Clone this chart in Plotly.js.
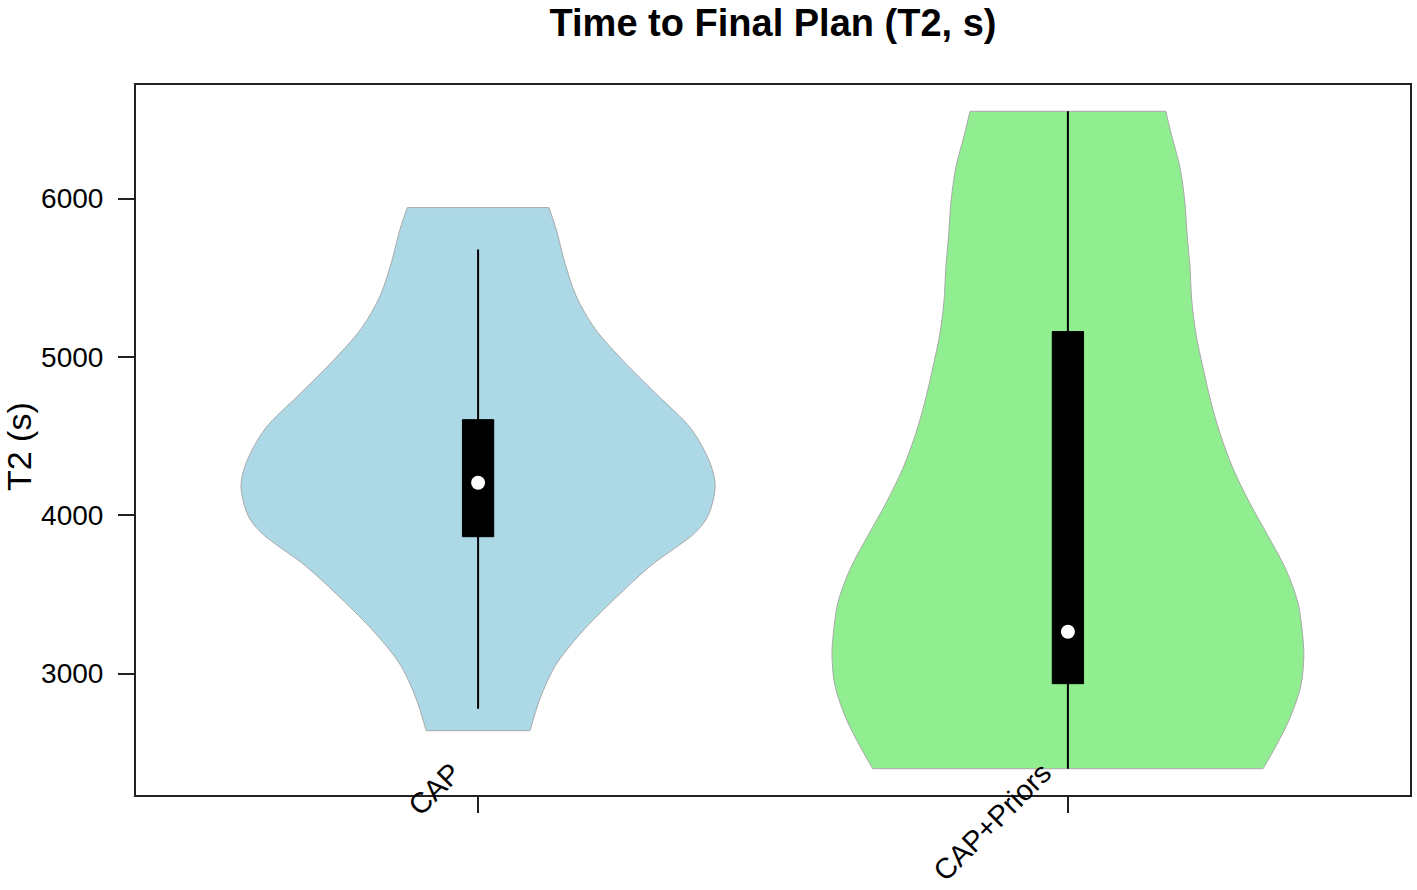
<!DOCTYPE html>
<html>
<head>
<meta charset="utf-8">
<script src="https://cdn.plot.ly/plotly-3.0.1.min.js"></script>
<style>html,body{margin:0;padding:0;background:#fff;}#chart{width:1417px;height:890px;}</style>
</head>
<body>
<div id="chart"></div>
<script>
// ---- data ----
const categories = ["CAP", "CAP+Priors"];
const catPos = [1, 2];

// violin outline: y values and half-widths (in category units)
const capY  = [2640, 2842, 3051, 3259, 3474, 3682, 3891, 3998, 4187, 4333, 4547, 4756, 4964, 5179, 5387, 5596, 5811, 5943];
const capHW = [0.088, 0.105, 0.131, 0.175, 0.232, 0.293, 0.368, 0.390, 0.402, 0.393, 0.361, 0.305, 0.249, 0.198, 0.166, 0.147, 0.132, 0.120];

const priY  = [2400, 2545, 2716, 2924, 3114, 3240, 3448, 3663, 3872, 4080, 4295, 4516, 4724, 4933, 5147, 5356, 5564, 5779, 5987, 6196, 6411, 6551];
const priHW = [0.331, 0.353, 0.376, 0.395, 0.400, 0.398, 0.390, 0.369, 0.339, 0.308, 0.280, 0.258, 0.242, 0.229, 0.217, 0.210, 0.207, 0.202, 0.198, 0.190, 0.175, 0.166];

// box statistics
const q1       = [3865, 2937];
const medians  = [4206, 3265];
const q3       = [4604, 5160];
const whiskLo  = [2779, 2400];
const whiskHi  = [5678, 6551];

const fillColors = ["#ADD8E6", "#90EE90"];
const yTicks = [3000, 4000, 5000, 6000];

// ---- build traces ----
const OUTLINE = "#a9a9a9";
const BOX_HALF = 0.0265;

function violinTraces(center, ys, hws, color) {
  const left = ys.map((v, i) => center - hws[i]);
  const right = ys.map((v, i) => center + hws[i]);
  const n = ys.length - 1;
  return [
    { type: "scatter", mode: "lines", x: left, y: ys,
      line: { color: OUTLINE, width: 1, shape: "spline", smoothing: 0.9 },
      hoverinfo: "skip", showlegend: false },
    { type: "scatter", mode: "lines", x: right, y: ys,
      fill: "tonextx", fillcolor: color,
      line: { color: OUTLINE, width: 1, shape: "spline", smoothing: 0.9 },
      hoverinfo: "skip", showlegend: false },
    { type: "scatter", mode: "lines",
      x: [left[0], right[0], null, left[n], right[n]],
      y: [ys[0], ys[0], null, ys[n], ys[n]],
      line: { color: OUTLINE, width: 1 }, connectgaps: false,
      hoverinfo: "skip", showlegend: false }
  ];
}

function boxTraces(i) {
  const c = catPos[i];
  return [
    { type: "scatter", mode: "lines", x: [c, c], y: [whiskLo[i], whiskHi[i]],
      line: { color: "#000000", width: 2 }, hoverinfo: "skip", showlegend: false },
    { type: "scatter", mode: "lines",
      x: [c - BOX_HALF, c + BOX_HALF, c + BOX_HALF, c - BOX_HALF, c - BOX_HALF],
      y: [q1[i], q1[i], q3[i], q3[i], q1[i]],
      fill: "toself", fillcolor: "#000000",
      line: { color: "#000000", width: 1 }, hoverinfo: "skip", showlegend: false }
  ];
}

let traces = [];
traces = traces.concat(violinTraces(catPos[0], capY, capHW, fillColors[0]));
traces = traces.concat(violinTraces(catPos[1], priY, priHW, fillColors[1]));
for (let i = 0; i < categories.length; i++) traces = traces.concat(boxTraces(i));

traces.push({
  type: "scatter", mode: "markers", x: catPos, y: medians,
  marker: { color: "#ffffff", size: 14, line: { width: 0 } },
  showlegend: false, hoverinfo: "skip"
});

const FONT = "Liberation Sans, Arial, Helvetica, sans-serif";

const annotations = categories.map((c, i) => ({
  text: c, x: catPos[i], xref: "x", y: 0, yref: "paper",
  xanchor: "right", yanchor: "top", xshift: -8, yshift: 41,
  textangle: -45, showarrow: false,
  font: { family: FONT, size: 29, color: "#000" }
}));
annotations.push({
  text: "T2 (s)", xref: "paper", yref: "paper", x: 0, y: 0.5,
  xshift: -117, yshift: -7, xanchor: "center", yanchor: "middle",
  textangle: -90, showarrow: false,
  font: { family: FONT, size: 34, color: "#000" }
});

const layout = {
  width: 1417, height: 890,
  margin: { l: 136, r: 7, t: 85, b: 95 },
  paper_bgcolor: "#ffffff", plot_bgcolor: "#ffffff",
  title: {
    text: "<b>Time to Final Plan (T2, s)</b>",
    font: { family: FONT, size: 38, color: "#000" },
    x: 0.5, xref: "paper", y: 0.975, yref: "container", yanchor: "middle"
  },
  xaxis: {
    range: [0.42, 2.58], tickvals: catPos, ticktext: ["", ""],
    ticks: "outside", ticklen: 16, tickwidth: 2, tickcolor: "#222",
    showgrid: false, zeroline: false,
    showline: true, linecolor: "#222", linewidth: 2, mirror: true
  },
  yaxis: {
    range: [2234, 6717], tickvals: yTicks, ticktext: yTicks.map(String),
    ticks: "outside", ticklen: 16, tickwidth: 2, tickcolor: "#222",
    ticklabelstandoff: 9,
    tickfont: { family: FONT, size: 28, color: "#000" },
    showgrid: false, zeroline: false,
    showline: true, linecolor: "#222", linewidth: 2, mirror: true
  },
  annotations: annotations,
  showlegend: false
};

Plotly.newPlot("chart", traces, layout, { staticPlot: true, displayModeBar: false });
</script>
</body>
</html>
